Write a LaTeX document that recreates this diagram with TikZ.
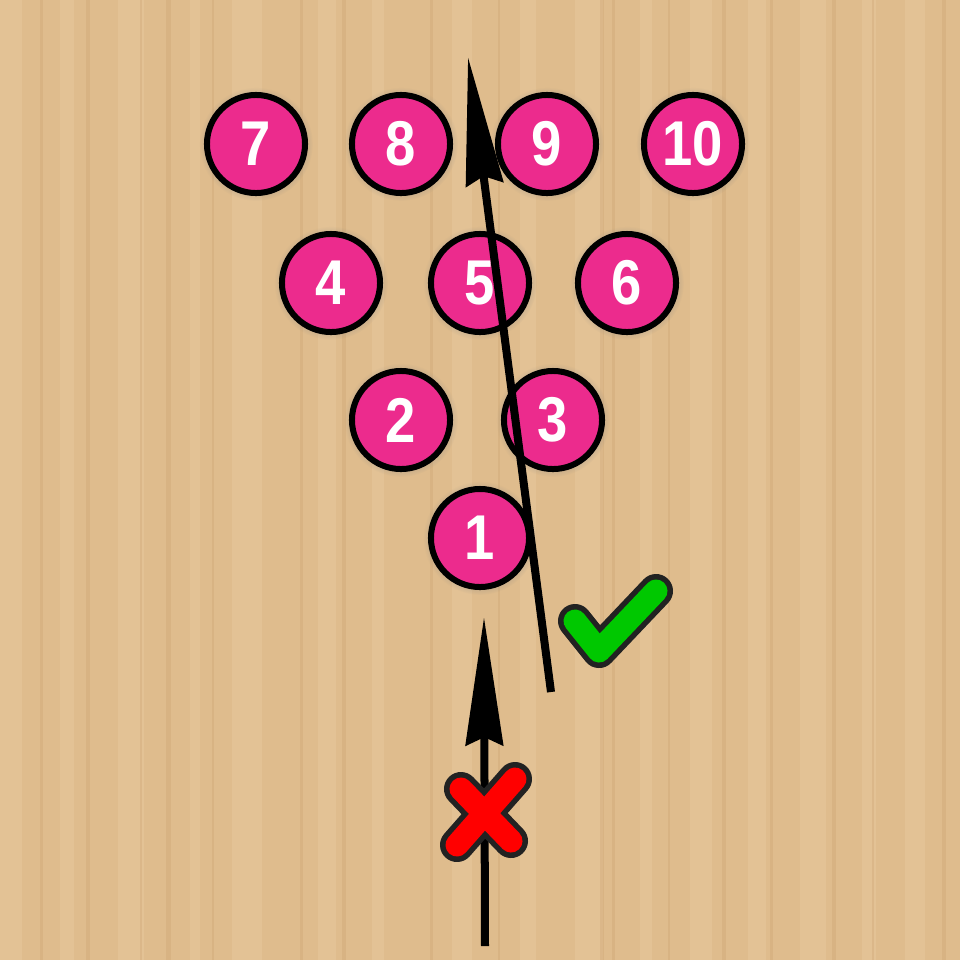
\documentclass[tikz,border=0pt]{standalone}
\usepackage{fontspec}
\newfontfamily\pinfont[FakeStretch=0.86]{Liberation Sans}
\usetikzlibrary{arrows.meta,shadows}
\definecolor{wood}{RGB}{223,188,141}
\definecolor{woodlight}{RGB}{233,203,160}
\definecolor{wooddark}{RGB}{205,165,115}
\definecolor{pinpink}{RGB}{236,43,141}
\definecolor{okgreen}{RGB}{0,200,0}
\definecolor{nored}{RGB}{255,0,0}
\definecolor{markedge}{RGB}{34,34,34}
\tikzset{
  pin/.style={circle,draw=black,line width=0.06cm,fill=pinpink,minimum size=0.98cm,inner sep=0pt,
    text=white,font=\pinfont\bfseries\fontsize{18}{18}\selectfont,
    circular drop shadow={shadow xshift=0pt,shadow yshift=0pt,shadow scale=1.16,opacity=0.3}},
  roll/.style={line width=0.08cm,-{Stealth[length=1.28cm,width=0.37cm,inset=0.08cm]}},
  markout/.style={line width=0.34cm,draw=markedge,line cap=round,line join=round},
  markin/.style={line width=0.23cm,line cap=round,line join=round},
}
\begin{document}
\begin{tikzpicture}[x=0.01cm,y=-0.01cm]
\def \rowa{144};
\def \rowb{283};
\def \rowc{420};
\def \rowd{538};
\useasboundingbox (0,0) rectangle (960,960);
% lane
\fill[wood] (0,0) rectangle (960,960);
\foreach \x/\w in {0/22,60/14,118/26,190/10,232/30,318/18,372/12,452/20,520/16,575/28,640/12,690/22,748/18,800/26,862/14,905/20}
  \fill[woodlight,opacity=0.45] (\x,0) rectangle ++(\w,960);
\foreach \x/\w in {40/3,86/4,140/2,166/5,212/2,300/3,342/4,430/3,498/2,600/4,612/3,668/2,722/4,770/3,832/4,872/2,942/4}
  \fill[wooddark,opacity=0.35] (\x,0) rectangle ++(\w,960);
% pins
\node[pin] (p7) at (256,\rowa) {7};
\node[pin] (p8) at (401,\rowa) {8};
\node[pin] (p9) at (547,\rowa) {9};
\node[pin] (p10) at (693,\rowa) {10};
\node[pin] (p4) at (331,\rowb) {4};
\node[pin] (p5) at (480,\rowb) {5};
\node[pin] (p6) at (627,\rowb) {6};
\node[pin] (p2) at (401,\rowc) {2};
\node[pin] (p3) at (553,\rowc) {3};
\node[pin] (p1) at (480,\rowd) {1};
% ball paths
\coordinate (goodstart) at (551,692);
\coordinate (goodtip) at (468,57);
\coordinate (badstart) at (485,946);
\coordinate (badtip) at (484,617);
\draw[roll] (goodstart) -- (goodtip);
\draw[roll] (badstart) -- (badtip);
% check mark
\coordinate (cka) at (575,621);
\coordinate (ckb) at (599,651);
\coordinate (ckc) at (656,591);
\draw[markout] (cka) -- (ckb) -- (ckc);
\draw[markin,okgreen] (cka) -- (ckb) -- (ckc);
% cross
\coordinate (xa) at (461,789);
\coordinate (xb) at (511,841);
\coordinate (xc) at (515,779);
\coordinate (xd) at (457,845);
\draw[markout] (xa) -- (xb) (xc) -- (xd);
\draw[markin,nored] (xa) -- (xb) (xc) -- (xd);
\end{tikzpicture}
\end{document}
